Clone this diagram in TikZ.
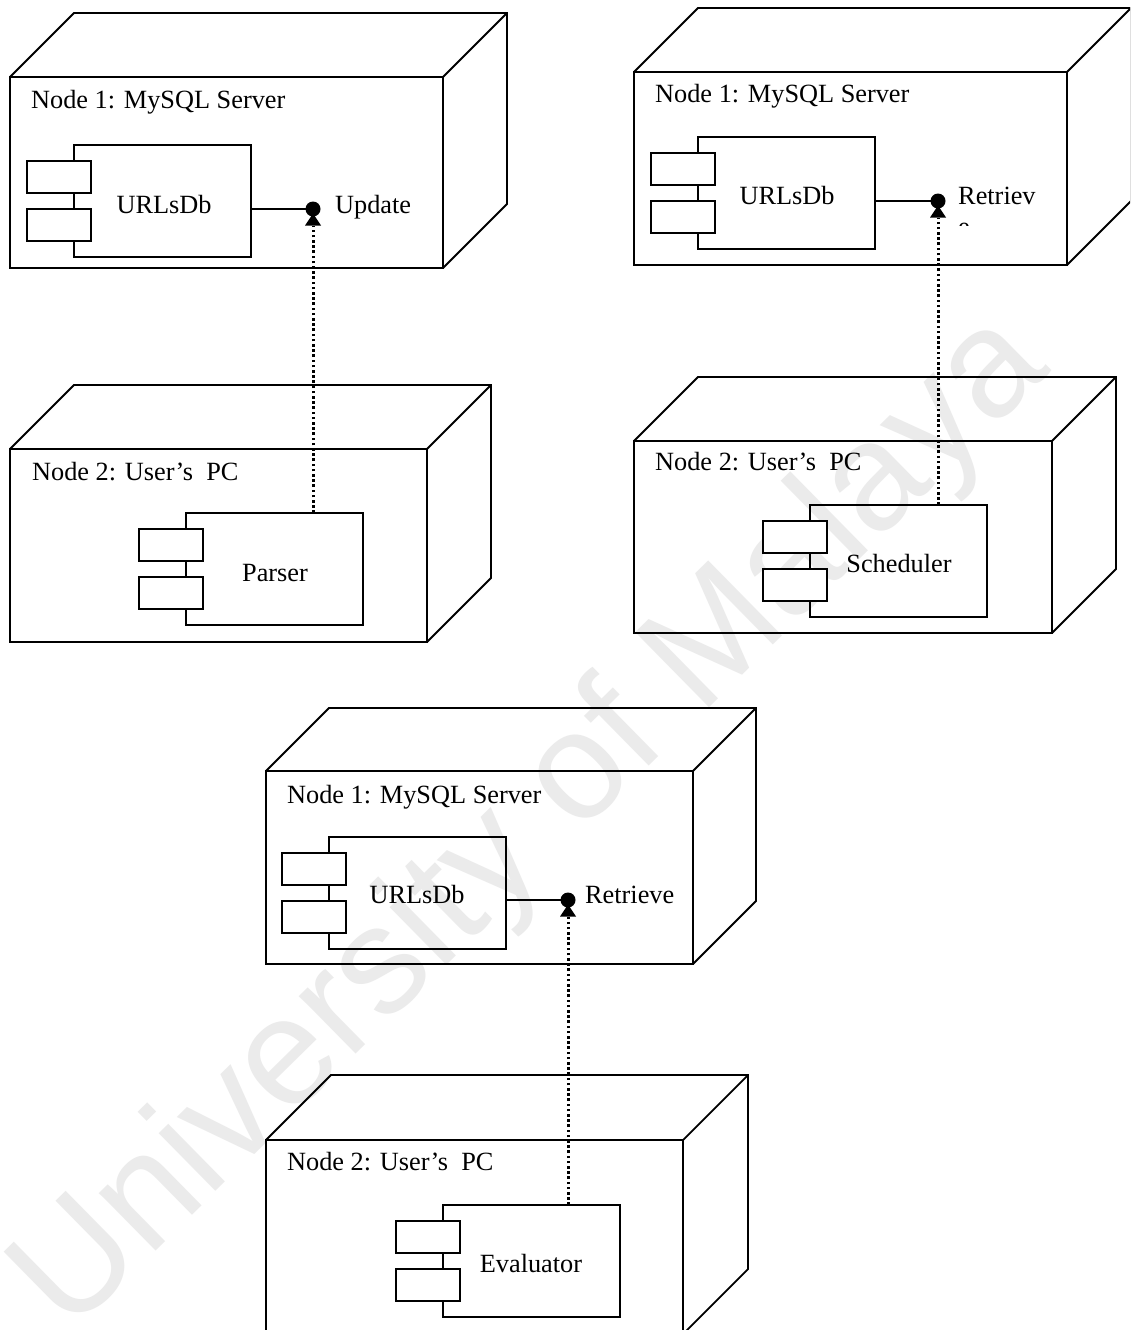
\documentclass[tikz,border=0pt]{standalone}
\usepackage{fontspec}
\setmainfont{Liberation Serif}
\newfontfamily\wmfont{Liberation Sans}
\usetikzlibrary{arrows.meta}
\tikzset{
  edge/.style={line width=1.8pt, line join=miter},
  frontbox/.style={draw, line width=1.8pt, anchor=north west, inner sep=0pt, outer sep=0pt},
  compbox/.style={draw, line width=1.8pt, anchor=north west, inner sep=0pt, outer sep=0pt},
  portbox/.style={draw, fill=white, line width=1.8pt, anchor=north west, inner sep=0pt, outer sep=0pt, minimum width=64pt, minimum height=32pt},
  ball/.style={circle, fill=black, inner sep=0pt, outer sep=0pt, minimum size=15pt},
  dep/.style={line width=3pt, dash pattern=on 2.6pt off 2.6pt, -{Triangle[width=16pt,length=12pt,line width=0pt]}, shorten >=-3pt},
  lbl/.style={anchor=base west, inner sep=0pt, font=\fontsize{26.3}{31}\selectfont},
  watermark/.style={text=black!8, font=\wmfont\fontsize{153}{160}\selectfont, rotate=44.5, inner sep=0pt}
}
\newcommand\umlnode[6]{% name, x, y, w, h, depth
  \node[frontbox, minimum width=#4pt, minimum height=#5pt] (#1) at (#2,#3) {};
  \draw[edge] (#1.north west) -- ++(#6,-#6) -- ([shift={(#6,-#6)}]#1.north east) -- ([shift={(#6,-#6)}]#1.south east) -- (#1.south east);
  \draw[edge] (#1.north east) -- ++(#6,-#6);
}
\newcommand\umlcomp[3]{% name, x, y
  \node[compbox, minimum width=177pt, minimum height=112pt] (#1) at (#2,#3) {};
  \node[portbox] (#1-a) at ([shift={(-47,16)}]#1.north west) {};
  \node[portbox] (#1-b) at ([shift={(-47,64)}]#1.north west) {};
}
\begin{document}
\begin{tikzpicture}[x=1pt,y=-1pt]
\useasboundingbox (0,0) rectangle (1130,1330);
\fill[white] (0,0) rectangle (1130,1330);
\clip (0,0) rectangle (1130,1330);

% watermark
\node[watermark] (wm) at (533,825) {University of Malaya};

% ---------- Group 1 (top left) ----------
\umlnode{n1}{10}{77}{433}{191}{64}
\node[lbl] (t1) at (31,108) {Node 1: MySQL Server};
\umlcomp{c1}{74}{145}
\node[lbl, anchor=base] (l1) at (164,213) {URLsDb};
\node[ball] (b1) at (313,209) {};
\node[lbl] (i1) at (335,213) {Update};
\draw[edge] (c1.east |- b1) -- (b1);

\umlnode{n2}{10}{449}{417}{193}{64}
\node[lbl] (t2) at (32,480) {Node 2: User’s\ \ PC};
\umlcomp{c2}{186}{513}
\node[lbl, anchor=base] (l2) at (275,581) {Parser};
\draw[dep] (c2.north -| b1) -- (b1);

% ---------- Group 2 (top right) ----------
\umlnode{n3}{634}{72}{433}{193}{64}
\node[lbl] (t3) at (655,102) {Node 1: MySQL Server};
\umlcomp{c3}{698}{137}
\node[lbl, anchor=base] (l3) at (787,204) {URLsDb};
\node[ball] (b3) at (938,201) {};
\node[lbl] (i3) at (958,204) {Retriev};
\begin{scope}
  \clip (950,214) rectangle (1000,225.5);
  \node[lbl] (i3e) at (958,235) {e};
\end{scope}
\draw[edge] (c3.east |- b3) -- (b3);

\umlnode{n4}{634}{441}{418}{192}{64}
\node[lbl] (t4) at (655,470) {Node 2: User’s\ \ PC};
\umlcomp{c4}{810}{505}
\node[lbl, anchor=base] (l4) at (899,572) {Scheduler};
\draw[dep] (c4.north -| b3) -- (b3);

% ---------- Group 3 (bottom) ----------
\umlnode{n5}{266}{771}{427}{193}{63}
\node[lbl] (t5) at (287,803) {Node 1: MySQL Server};
\umlcomp{c5}{329}{837}
\node[lbl, anchor=base] (l5) at (417,903) {URLsDb};
\node[ball] (b5) at (568,900) {};
\node[lbl] (i5) at (585,903) {Retrieve};
\draw[edge] (c5.east |- b5) -- (b5);

\umlnode{n6}{266}{1140}{417}{194}{65}
\node[lbl] (t6) at (287,1170) {Node 2: User’s\ \ PC};
\umlcomp{c6}{443}{1205}
\node[lbl, anchor=base] (l6) at (531,1272) {Evaluator};
\draw[dep] (c6.north -| b5) -- (b5);
\end{tikzpicture}
\end{document}
